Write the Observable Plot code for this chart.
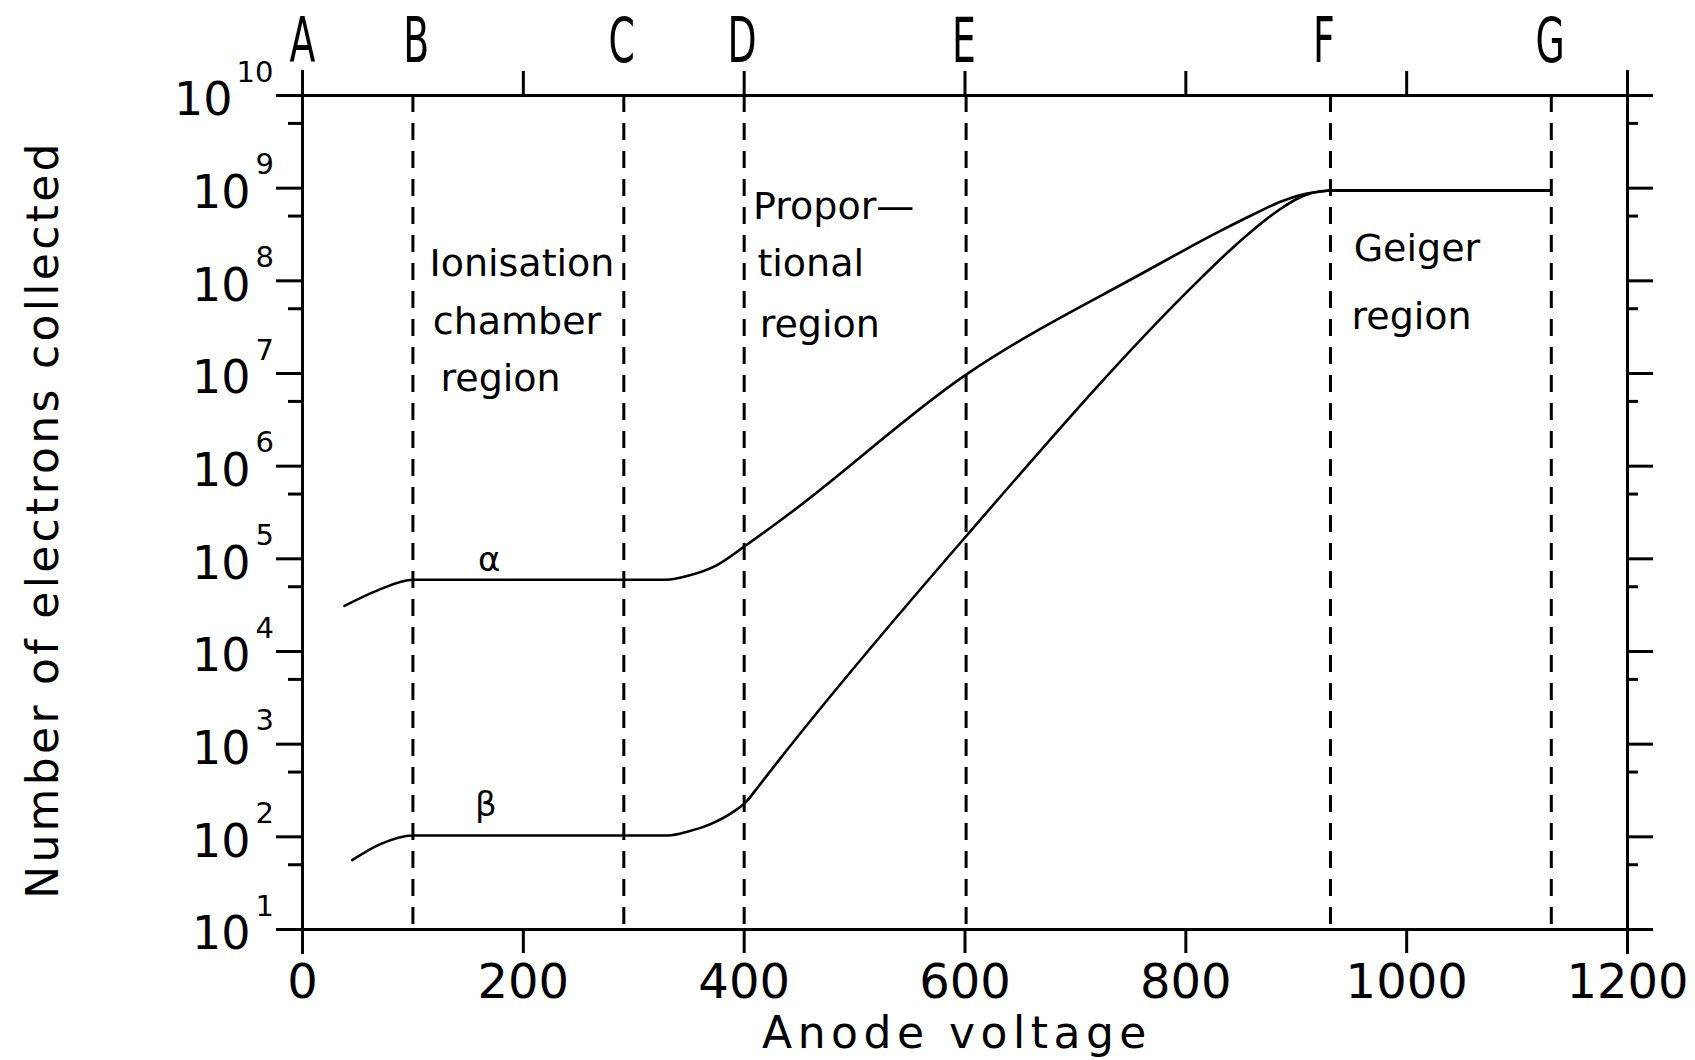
<!DOCTYPE html>
<html>
<head>
<meta charset="utf-8">
<script src="https://cdn.jsdelivr.net/npm/d3@7"></script>
<script src="https://cdn.jsdelivr.net/npm/@observablehq/plot@0.6"></script>
<style>
  html, body { margin: 0; padding: 0; background: #fff; }
</style>
</head>
<body>
<script>
// ---- data ----
const alphaVoltage = [38, 68, 100, 329, 350, 375, 402, 439, 600, 768, 800, 830, 860, 885, 905, 930];
const alphaCount   = [3.1e4, 4.57e4, 5.94e4, 5.94e4, 6.6e4, 8.5e4, 1.41e5, 2.95e5, 9.55e6, 1.35e8, 2.19e8, 3.39e8, 5.13e8, 7.08e8, 8.51e8, 9.44e8];

const betaVoltage = [45, 70, 100, 331, 350, 370, 390, 402, 412, 431, 600, 813, 840, 865, 885, 900, 915, 930];
const betaCount   = [56, 83, 103.5, 103.5, 115, 138, 186, 240, 339, 661, 1.7e5, 1.05e8, 2.14e8, 3.89e8, 5.89e8, 7.59e8, 8.91e8, 9.44e8];

const geigerVoltage = [930, 1130];
const geigerCount   = [9.44e8, 9.44e8];

const boundaryVoltage = [100, 291, 400, 601, 931, 1131];
const letterNames   = ["A", "B", "C", "D", "E", "F", "G"];
const letterVoltage = [0, 103, 289, 398, 599, 925, 1130];

const xTicks = [0, 200, 400, 600, 800, 1000, 1200];
const yTicks = [1e1, 1e2, 1e3, 1e4, 1e5, 1e6, 1e7, 1e8, 1e9, 1e10];
const yTickExp = ["1", "2", "3", "4", "5", "6", "7", "8", "9", "10"];
const yMinorTicks = [5e1, 5e2, 5e3, 5e4, 5e5, 5e6, 5e7, 5e8, 5e9];

const regionText    = ["Ionisation", "chamber", "region", "Propor\u2014", "tional", "region", "Geiger", "region"];
const regionVoltage = [115, 118, 125, 408, 412, 414, 952, 950];
const regionCount   = [1.54e8, 3.64e7, 8.8e6, 6.27e8, 1.54e8, 3.38e7, 2.2e8, 4.06e7];

const curveLabels       = ["\u03b1", "\u03b2"];
const curveLabelVoltage = [169, 166];
const curveLabelCount   = [9.6e4, 218];

const xLabel = "Anode voltage";
const yLabel = "Number of electrons collected";

// ---- tables ----
const alpha = alphaVoltage.map((v, i) => ({v, n: alphaCount[i]}));
const beta = betaVoltage.map((v, i) => ({v, n: betaCount[i]}));
const geiger = geigerVoltage.map((v, i) => ({v, n: geigerCount[i]}));
const letters = letterNames.map((t, i) => ({t, v: letterVoltage[i]}));
const regions = regionText.map((t, i) => ({t, v: regionVoltage[i], n: regionCount[i]}));
const curveLab = curveLabels.map((t, i) => ({t, v: curveLabelVoltage[i], n: curveLabelCount[i]}));
const yLabs = yTicks.map((n, i) => ({n, e: yTickExp[i]}));

const ink = "#000";
const chart = Plot.plot({
  width: 1695,
  height: 1060,
  marginTop: 95,
  marginRight: 68,
  marginBottom: 131,
  marginLeft: 302,
  style: {fontFamily: "'DejaVu Sans', sans-serif", background: "#fff", color: ink},
  x: {domain: [0, 1200]},
  y: {type: "log", domain: [10, 1e10]},
  marks: [
    // dashed region boundaries
    Plot.ruleX(boundaryVoltage, {stroke: ink, strokeWidth: 3, strokeDasharray: "17,11"}),
    // frame with extended corners
    Plot.ruleY([10, 1e10], {stroke: ink, strokeWidth: 3, insetLeft: -26, insetRight: -26}),
    Plot.ruleX([0, 1200], {stroke: ink, strokeWidth: 3, insetTop: -25, insetBottom: -25}),
    // ticks
    Plot.axisX({anchor: "bottom", ticks: xTicks, tickSize: 24, tickPadding: 10, fontSize: 48, strokeWidth: 3, tickFormat: d => String(d), label: null}),
    Plot.axisX({anchor: "top", ticks: xTicks, tickSize: 25, strokeWidth: 3, tickFormat: () => "", label: null}),
    Plot.axisY({anchor: "left", ticks: yTicks, tickSize: 26, strokeWidth: 3, tickFormat: () => "", label: null}),
    Plot.axisY({anchor: "left", ticks: yMinorTicks, tickSize: 14, strokeWidth: 3, tickFormat: () => "", label: null}),
    Plot.axisY({anchor: "right", ticks: yTicks, tickSize: 25, strokeWidth: 3, tickFormat: () => "", label: null}),
    Plot.axisY({anchor: "right", ticks: yMinorTicks, tickSize: 10, strokeWidth: 3, tickFormat: () => "", label: null}),
    // y tick labels 10^n
    Plot.text(yLabs, {filter: d => d.e.length === 1, y: "n", text: () => "10", frameAnchor: "left", textAnchor: "end", lineAnchor: "middle", dx: -52, dy: 5, fontSize: 46, fill: ink}),
    Plot.text(yLabs, {filter: d => d.e.length === 1, y: "n", text: "e", frameAnchor: "left", textAnchor: "start", lineAnchor: "middle", dx: -47, dy: -23, fontSize: 29, fill: ink}),
    Plot.text(yLabs, {filter: d => d.e.length === 2, y: "n", text: () => "10", frameAnchor: "left", textAnchor: "end", lineAnchor: "middle", dx: -70, dy: 5, fontSize: 46, fill: ink}),
    Plot.text(yLabs, {filter: d => d.e.length === 2, y: "n", text: "e", frameAnchor: "left", textAnchor: "start", lineAnchor: "middle", dx: -66, dy: -23, fontSize: 29, fill: ink}),
    // curves
    Plot.line(alpha, {x: "v", y: "n", curve: "monotone-x", stroke: ink, strokeWidth: 2.6}),
    Plot.line(beta, {x: "v", y: "n", curve: "monotone-x", stroke: ink, strokeWidth: 2.6}),
    Plot.line(geiger, {x: "v", y: "n", stroke: ink, strokeWidth: 3}),
    // annotations
    Plot.text(regions, {x: "v", y: "n", text: "t", textAnchor: "start", lineAnchor: "middle", fontSize: 38, fill: ink}),
    Plot.text(curveLab, {x: "v", y: "n", text: "t", lineAnchor: "middle", fontSize: 34, fill: ink}),
    Plot.text(letters, {x: "v", text: "t", frameAnchor: "top", textAnchor: "middle", lineAnchor: "middle", dy: -54, fontSize: 63, fill: ink}),
    // axis titles
    Plot.text([xLabel], {x: () => 600, text: d => d, frameAnchor: "bottom", textAnchor: "middle", lineAnchor: "middle", dy: 104, dx: -8, fontSize: 44, fill: ink}),
    Plot.text([yLabel], {text: d => d, frameAnchor: "left", textAnchor: "middle", lineAnchor: "middle", dx: -259, dy: 7, rotate: -90, fontSize: 44, fill: ink})
  ]
});

document.body.appendChild(chart);

// locate text elements by their content
const allTexts = Array.from(chart.querySelectorAll("text"));
const letterEls = allTexts.filter(t => t.textContent.length === 1 && letterNames.includes(t.textContent));
const xTitleEls = allTexts.filter(t => t.textContent === xLabel);
const yTitleEls = allTexts.filter(t => t.textContent === yLabel);

// narrow, tall lettering for the top labels A..G: squeeze horizontally about each glyph's centre
letterEls.forEach(t => {
  const b = t.getBBox();
  const cx = b.x + b.width / 2;
  const tr = t.getAttribute("transform") || "";
  t.setAttribute("transform", `${tr} translate(${cx},0) scale(0.6,1) translate(${-cx},0)`);
});
xTitleEls.forEach(t => t.setAttribute("letter-spacing", "5.5"));
yTitleEls.forEach(t => t.setAttribute("letter-spacing", "3.3"));
</script>
</body>
</html>
